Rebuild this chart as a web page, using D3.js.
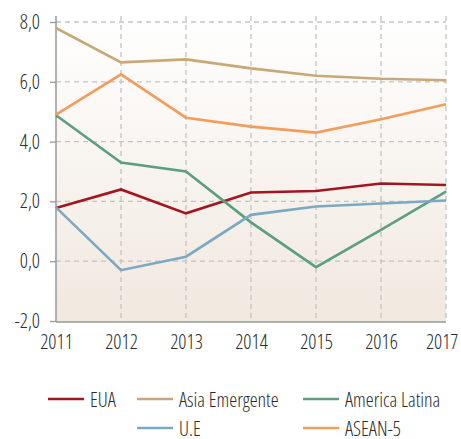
<!DOCTYPE html>
<html>
<head>
<meta charset="utf-8">
<script src="https://cdn.jsdelivr.net/npm/d3@7"></script>
<style>
  body { margin: 0; background: #fff; }
  text { font-family: "Open Sans", sans-serif; font-stretch: 75%; font-weight: 350; fill: #2b2b2b; }
</style>
</head>
<body>
<svg id="chart" width="461" height="439"></svg>
<script>
'use strict';

// data
const years = [2011, 2012, 2013, 2014, 2015, 2016, 2017];
const yTicks = [-2, 0, 2, 4, 6, 8];

const eua = [1.78, 2.4, 1.6, 2.3, 2.35, 2.6, 2.55];
const asiaEmergente = [7.8, 6.65, 6.75, 6.45, 6.2, 6.1, 6.05];
const americaLatina = [4.88, 3.3, 3.0, 1.3, -0.2, 1.05, 2.33];
const ue = [1.8, -0.3, 0.15, 1.55, 1.83, 1.93, 2.03];
const asean5 = [4.9, 6.25, 4.8, 4.5, 4.3, 4.75, 5.25];

const seriesNames = ["EUA", "Asia Emergente", "America Latina", "U.E", "ASEAN-5"];
const seriesValues = [eua, asiaEmergente, americaLatina, ue, asean5];
const seriesColors = ["#a3161f", "#c9a878", "#5c9e80", "#7ba9c1", "#f29d5c"];

const svg = d3.select("#chart");
const plotLeft = 56, plotRight = 446, plotTop = 16, plotBottom = 322;

const x = d3.scaleLinear().domain([2011, 2017]).range([plotLeft, plotRight]);
const y = d3.scaleLinear().domain([-2, 8]).range([321, 22]);

// background
const defs = svg.append("defs");
const grad = defs.append("linearGradient")
	.attr("id", "bg").attr("x1", 0).attr("y1", 0).attr("x2", 0).attr("y2", 1);
grad.append("stop").attr("offset", "0%").attr("stop-color", "#ffffff");
grad.append("stop").attr("offset", "100%").attr("stop-color", "#f1e8df");

svg.append("rect")
	.attr("x", plotLeft).attr("y", plotTop)
	.attr("width", plotRight - plotLeft).attr("height", plotBottom - plotTop)
	.attr("fill", "url(#bg)");

// grid
const grid = svg.append("g")
	.attr("stroke", "#c4c4c4")
	.attr("stroke-width", 1.3)
	.attr("stroke-dasharray", "5,4");

grid.selectAll("line.h")
	.data(yTicks.filter(d => d > -2))
	.join("line")
	.attr("class", "h")
	.attr("x1", plotLeft).attr("x2", plotRight)
	.attr("y1", d => y(d)).attr("y2", d => y(d));

grid.selectAll("line.v")
	.data(years.slice(1))
	.join("line")
	.attr("class", "v")
	.attr("x1", d => x(d)).attr("x2", d => x(d))
	.attr("y1", plotTop).attr("y2", plotBottom);

// axes
const yAxis = svg.append("g")
	.attr("transform", `translate(${plotLeft},0)`)
	.call(d3.axisLeft(y).tickValues(yTicks).tickSize(6).tickPadding(10)
		.tickFormat(d => d3.format(".1f")(d).replace(".", ",").replace("\u2212", "-")));
yAxis.select(".domain").remove();
yAxis.selectAll(".tick line").attr("stroke", "#999").attr("stroke-width", 1.3);
yAxis.selectAll("text").attr("font-size", 20).attr("fill", null).attr("font-family", null);

const xAxis = svg.append("g")
	.attr("transform", `translate(0,${plotBottom})`)
	.call(d3.axisBottom(x).tickValues(years).tickSize(0).tickPadding(13)
		.tickFormat(d3.format("d")));
xAxis.select(".domain").remove();
xAxis.selectAll("text").attr("font-size", 20).attr("fill", null).attr("font-family", null);
xAxis.selectAll(".tick:last-of-type text").attr("text-anchor", "end").attr("x", 12);

svg.append("line")
	.attr("x1", plotLeft).attr("x2", plotLeft).attr("y1", plotTop).attr("y2", plotBottom)
	.attr("stroke", "#999").attr("stroke-width", 1.5);
svg.append("line")
	.attr("x1", plotLeft).attr("x2", plotRight).attr("y1", plotBottom).attr("y2", plotBottom)
	.attr("stroke", "#999").attr("stroke-width", 1.5);

// lines
const line = d3.line()
	.x((d, i) => x(years[i]))
	.y(d => y(d));

svg.append("g")
	.selectAll("path")
	.data(seriesValues)
	.join("path")
	.attr("d", line)
	.attr("fill", "none")
	.attr("stroke", (d, i) => seriesColors[i])
	.attr("stroke-width", 2.6);

// legend
const legendPos = [[48, 399], [137, 399], [303, 399], [137, 428], [303, 428]];
const legend = svg.append("g")
	.selectAll("g")
	.data(seriesNames)
	.join("g")
	.attr("transform", (d, i) => `translate(${legendPos[i][0]},${legendPos[i][1]})`);

legend.append("line")
	.attr("x1", 0).attr("x2", 36)
	.attr("stroke", (d, i) => seriesColors[i])
	.attr("stroke-width", 2.6);
legend.append("text")
	.attr("x", 42).attr("y", 8)
	.attr("font-size", 20)
	.text(d => d);
</script>
</body>
</html>
